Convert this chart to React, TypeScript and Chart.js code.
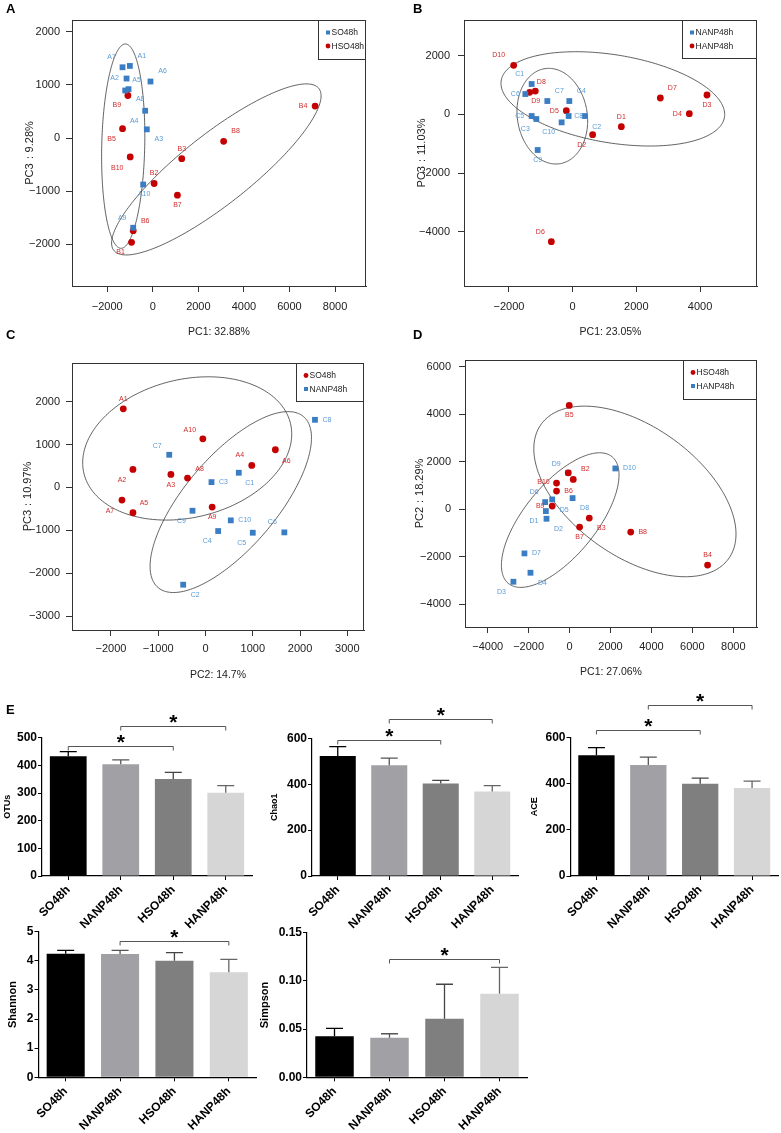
import React, { useEffect, useRef } from 'react';
import { Chart, registerables } from 'chart.js';

Chart.register(...registerables);

const FONT = '"Liberation Sans", Arial, Helvetica, sans-serif';
Chart.defaults.font.family = FONT;

const BLUE = '#3b7dc3';
const RED = '#c40000';
const BLUE_TEXT = '#5b9bd6';
const RED_TEXT = '#d22b2b';

// ---------------- Panel A : SO48h vs HSO48h (PC1 / PC3) ----------------
const aSoNames = ['A1', 'A2', 'A3', 'A4', 'A5', 'A6', 'A7', 'A8', 'A9', 'A10'];
const aSoX = [-1007, -1153, -263, -336, -1066, -102, -1329, -1212, -861, -423];
const aSoY = [1356, 1119, 163, 513, 919, 1063, 1331, 894, -1688, -875];
const aHsoNames = ['B1', 'B2', 'B3', 'B4', 'B5', 'B6', 'B7', 'B8', 'B9', 'B10'];
const aHsoX = [-934, 58, 1270, 7125, -1329, -861, 1080, 3110, -1095, -993];
const aHsoY = [-1963, -856, -388, 600, 175, -1744, -1075, -63, 800, -356];
const aXTicks = [-2000, 0, 2000, 4000, 6000, 8000];
const aYTicks = [-2000, -1000, 0, 1000, 2000];
// ellipse: [centre x, centre y, half extent x, half extent y, correlation]
const aEllipses = [
  [-1299, -153, 949, 1922, 0.1],
  [2789, -591, 4599, 1609, 0.86],
];

// ---------------- Panel B : NANP48h vs HANP48h (PC1 / PC3) ----------------
const bNanpNames = ['C1', 'C2', 'C3', 'C4', 'C5', 'C6', 'C7', 'C8', 'C9', 'C10'];
const bNanpX = [-1288, 377, -1141, -105, -1288, -1487, -796, -126, -1099, -346];
const bNanpY = [1034, -57, -159, 454, -57, 693, 454, -57, -1215, -273];
const bHanpNames = ['D1', 'D2', 'D3', 'D4', 'D5', 'D6', 'D7', 'D8', 'D9', 'D10'];
const bHanpX = [1529, 628, 4219, 3664, -199, -670, 2754, -1173, -1351, -1853];
const bHanpY = [-420, -693, 659, 23, 125, -4340, 557, 795, 750, 1670];
const bXTicks = [-2000, 0, 2000, 4000];
const bYTicks = [-4000, -2000, 0, 2000];
const bEllipses = [
  [1262, 528, 3513, 1607, -0.33],
  [-639, -62, 1110, 1630, -0.1],
];

// ---------------- Panel C : SO48h vs NANP48h (PC2 / PC3) ----------------
const cSoNames = ['A1', 'A2', 'A3', 'A4', 'A5', 'A6', 'A7', 'A8', 'A9', 'A10'];
const cSoX = [-1739, -1535, -732, 979, -1535, 1478, -1767, -380, 141, -56];
const cSoY = [1834, 420, 303, 513, -591, 878, -295, 218, -458, 1134];
const cNanpNames = ['C1', 'C2', 'C3', 'C4', 'C5', 'C6', 'C7', 'C8', 'C9', 'C10'];
const cNanpX = [704, -472, 127, 268, 1000, 1668, -767, 2316, -275, 535];
const cNanpY = [342, -2269, 124, -1018, -1057, -1049, 761, 1577, -544, -769];
const cXTicks = [-2000, -1000, 0, 1000, 2000, 3000];
const cYTicks = [-3000, -2000, -1000, 0, 1000, 2000];
const cEllipses = [
  [-387, 909, 2211, 1671, 0.2],
  [535, -342, 1707, 2110, 0.71],
];

// ---------------- Panel D : HSO48h vs HANP48h (PC1 / PC2) ----------------
const dHsoNames = ['B1', 'B2', 'B3', 'B4', 'B5', 'B6', 'B7', 'B8', 'B9', 'B10'];
const dHsoX = [-65, 180, 963, 6744, -16, -637, 490, 2988, -849, -637];
const dHsoY = [1530, 1250, -379, -2359, 4366, 758, -758, -969, 126, 1095];
const dHanpNames = ['D1', 'D2', 'D3', 'D4', 'D5', 'D6', 'D7', 'D8', 'D9', 'D10'];
const dHanpX = [-1159, -1127, -2744, -1911, -849, -1192, -2205, 147, -65, 2237];
const dHanpY = [-84, -407, -3061, -2682, 407, 295, -1867, 463, 1530, 1713];
const dXTicks = [-4000, -2000, 0, 2000, 4000, 6000, 8000];
const dYTicks = [-4000, -2000, 0, 2000, 4000, 6000];
const dEllipses = [
  [3193, 744, 4940, 3594, -0.5],
  [-457, -463, 2874, 2836, 0.67],
];

// ---------------- Panel E : alpha diversity ----------------
const groupNames = ['SO48h', 'NANP48h', 'HSO48h', 'HANP48h'];
const otusMean = [433, 404, 351, 301];
const otusSd = [17, 16, 24, 26];
const chao1Mean = [523, 483, 403, 368];
const chao1Sd = [41, 31, 14, 26];
const aceMean = [522, 480, 399, 381];
const aceSd = [33, 34, 24, 29];
const shannonMean = [4.24, 4.23, 4.0, 3.61];
const shannonSd = [0.12, 0.13, 0.28, 0.44];
const simpsonMean = [0.0425, 0.0411, 0.0608, 0.0867];
const simpsonSd = [0.0083, 0.0041, 0.0357, 0.0273];
// significance brackets: [from group, to group, bracket level]
const otusSig = [[0, 2, 470], [1, 3, 542]];
const chao1Sig = [[0, 2, 594], [1, 3, 686]];
const aceSig = [[0, 2, 632], [1, 3, 740]];
const shannonSig = [[1, 3, 4.69]];
const simpsonSig = [[1, 3, 0.1227]];
const otusTicks = [0, 100, 200, 300, 400, 500];
const chao1Ticks = [0, 200, 400, 600];
const aceTicks = [0, 200, 400, 600];
const shannonTicks = [0, 1, 2, 3, 4, 5];
const simpsonTicks = [0, 0.05, 0.1, 0.15];

// label offsets (pixels) for the sample names next to the points
const aSoOff = [[12, -10], [-12, 0], [12, 10], [-11, 10], [8, -9], [12, -10], [-11, -10], [15, 9], [-11, -10], [1, 10]];
const aHsoOff = [[-11, 10], [0, -10], [0, -10], [-12, 0], [-11, 10], [12, -10], [0, 10], [12, -10], [-11, 10], [-13, 11]];
const bNanpOff = [[-12, -10], [12, 11], [-11, 10], [12, -10], [-12, 0], [-10, 0], [12, -10], [10, 0], [0, 10], [-13, 10]];
const bHanpOff = [[0, -10], [-11, 10], [0, 10], [-12, 0], [-12, 0], [-11, -10], [12, -10], [6, -9], [6, 9], [-15, -10]];
const cSoOff = [[0, -10], [-11, 11], [0, 11], [-12, -10], [11, -10], [11, 11], [-12, 11], [12, -9], [0, 10], [-13, -9]];
const cNanpOff = [[11, 10], [12, 10], [12, 0], [-11, 10], [-11, 10], [-12, -10], [-12, -9], [12, 0], [-11, 10], [14, 0]];
const dHsoOff = [null, [12, -10], [12, 10], [0, -10], [0, 10], [12, 0], [0, 10], [12, 0], [-12, 0], [-13, -1]];
const dHanpOff = [[-12, 10], [12, 10], [-12, 10], [12, 10], [12, 11], [-11, -10], [12, 0], [12, 10], [-12, -9], [14, 0]];

const BAR_COLORS = ['#000000', '#a1a1a5', '#7f7f7f', '#d6d6d6'];
const ERR_COLORS = ['#000000', '#555555', '#444444', '#666666'];

type Box = { left: number; top: number; width: number; height: number };
type Area = { left: number; top: number; right: number; bottom: number };
type Group = {
  label: string;
  shape: 'rect' | 'circle';
  color: string;
  textColor: string;
  names: string[];
  xs: number[];
  ys: number[];
  offsets: (number[] | null)[];
};
type ScatterSpec = {
  box: Box;
  area: Area;
  xRange: number[];
  yRange: number[];
  xTicks: number[];
  yTicks: number[];
  xTitle: string;
  yTitle: string;
  xTitlePad: number;
  yTitlePad: number;
  xTickPad: number;
  yTickPad: number;
  groups: Group[];
  ellipses: number[][];
  legend: { w: number; h: number };
};

const fmtMinus = (v: number) => (v < 0 ? '\u2212' + Math.abs(v) : String(v));

function makeScatter(s: ScatterSpec): any {
  const tickFont = { family: FONT, size: 11 };
  const ellipsePlugin = {
    id: 'ellipses',
    beforeDatasetsDraw(chart: any) {
      const { ctx } = chart;
      const xs = chart.scales.x;
      const ys = chart.scales.y;
      ctx.save();
      ctx.strokeStyle = '#3a3a3a';
      ctx.lineWidth = 0.8;
      for (const [cx, cy, sx, sy, r] of s.ellipses) {
        ctx.beginPath();
        const n = 240;
        for (let k = 0; k <= n; k++) {
          const t = (k / n) * Math.PI * 2;
          const dx = sx * Math.cos(t);
          const dy = sy * (r * Math.cos(t) + Math.sqrt(1 - r * r) * Math.sin(t));
          const px = xs.getPixelForValue(cx + dx);
          const py = ys.getPixelForValue(cy + dy);
          if (k === 0) ctx.moveTo(px, py);
          else ctx.lineTo(px, py);
        }
        ctx.closePath();
        ctx.stroke();
      }
      ctx.restore();
    },
  };
  const labelPlugin = {
    id: 'pointNames',
    afterDatasetsDraw(chart: any) {
      const { ctx } = chart;
      ctx.save();
      ctx.font = `7px ${FONT}`;
      ctx.textAlign = 'center';
      ctx.textBaseline = 'middle';
      s.groups.forEach((g, di) => {
        const meta = chart.getDatasetMeta(di);
        ctx.fillStyle = g.textColor;
        g.names.forEach((name, i) => {
          const off = g.offsets[i];
          if (!off) return;
          const el = meta.data[i];
          ctx.fillText(name, el.x + off[0], el.y + off[1]);
        });
      });
      ctx.restore();
    },
  };
  const framePlugin = {
    id: 'frameLegend',
    afterDraw(chart: any) {
      const { ctx, chartArea: a } = chart;
      ctx.save();
      ctx.strokeStyle = '#333';
      ctx.lineWidth = 1;
      ctx.strokeRect(Math.round(a.left) + 0.5, Math.round(a.top) + 0.5, Math.round(a.right - a.left) - 1, Math.round(a.bottom - a.top));
      // legend
      const lx = Math.round(a.right - s.legend.w) + 0.5;
      const ly = Math.round(a.top) + 0.5;
      ctx.fillStyle = '#fff';
      ctx.fillRect(lx, ly, s.legend.w - 1, s.legend.h);
      ctx.strokeRect(lx, ly, s.legend.w - 1, s.legend.h);
      ctx.font = `8.5px ${FONT}`;
      ctx.textAlign = 'left';
      ctx.textBaseline = 'middle';
      s.groups.forEach((g, k) => {
        const my = ly + 12 + k * 13.5;
        const mx = lx + 9.5;
        ctx.fillStyle = g.color;
        if (g.shape === 'rect') {
          ctx.fillRect(mx - 2, my - 2, 4, 4);
        } else {
          ctx.beginPath();
          ctx.arc(mx, my, 2.4, 0, Math.PI * 2);
          ctx.fill();
        }
        ctx.fillStyle = '#222';
        ctx.fillText(g.label, mx + 3.5, my + 0.5);
      });
      ctx.restore();
    },
  };
  return {
    type: 'scatter',
    data: {
      datasets: s.groups.map((g) => ({
        label: g.label,
        data: g.xs.map((x, i) => ({ x, y: g.ys[i] })),
        pointStyle: g.shape,
        pointRadius: g.shape === 'rect' ? 4.1 : 3.4,
        backgroundColor: g.color,
        borderColor: g.color,
        borderWidth: 0,
      })),
    },
    options: {
      animation: false,
      responsive: false,
      events: [],
      layout: { padding: { left: 0, top: s.area.top, right: s.box.width - s.area.right, bottom: 0 } },
      plugins: { legend: { display: false }, tooltip: { enabled: false } },
      scales: {
        x: {
          type: 'linear',
          position: 'bottom',
          min: s.xRange[0],
          max: s.xRange[1],
          afterBuildTicks: (sc: any) => {
            sc.ticks = s.xTicks.map((v) => ({ value: v }));
          },
          afterFit: (sc: any) => {
            sc.height = s.box.height - s.area.bottom;
          },
          ticks: { autoSkip: false, maxRotation: 0, minRotation: 0, padding: s.xTickPad, font: tickFont, color: '#222', callback: (v: number) => fmtMinus(v) },
          grid: { display: true, drawOnChartArea: false, drawTicks: true, tickLength: 6, color: '#333', lineWidth: 1 },
          border: { display: true, color: '#333', width: 1 },
          title: { display: true, text: s.xTitle, font: { family: FONT, size: 10.5 }, color: '#222', padding: { top: 0, bottom: s.xTitlePad } },
        },
        y: {
          type: 'linear',
          position: 'left',
          min: s.yRange[0],
          max: s.yRange[1],
          afterBuildTicks: (sc: any) => {
            sc.ticks = s.yTicks.map((v) => ({ value: v }));
          },
          afterFit: (sc: any) => {
            sc.width = s.area.left;
          },
          ticks: { autoSkip: false, padding: s.yTickPad, font: tickFont, color: '#222', callback: (v: number) => fmtMinus(v) },
          grid: { display: true, drawOnChartArea: false, drawTicks: true, tickLength: 6, color: '#333', lineWidth: 1 },
          border: { display: true, color: '#333', width: 1 },
          title: { display: true, text: s.yTitle, font: { family: FONT, size: 11 }, color: '#222', padding: { top: s.yTitlePad, bottom: 0 } },
        },
      },
    },
    plugins: [ellipsePlugin, labelPlugin, framePlugin],
  };
}

type BarSpec = {
  box: Box;
  area: Area;
  max: number;
  yTicks: number[];
  yFmt: (v: number) => string;
  title: string;
  titleSize: number;
  titlePad: number;
  means: number[];
  sds: number[];
  sig: number[][];
};

function makeBar(b: BarSpec): any {
  const errPlugin = {
    id: 'errorsAndSig',
    afterDraw(chart: any) {
      const { ctx } = chart;
      const meta = chart.getDatasetMeta(0);
      const ys = chart.scales.y;
      ctx.save();
      b.means.forEach((m, i) => {
        const x = meta.data[i].x;
        const yTop = ys.getPixelForValue(m + b.sds[i]);
        const yBar = ys.getPixelForValue(m);
        ctx.strokeStyle = ERR_COLORS[i];
        ctx.lineWidth = 1.3;
        ctx.beginPath();
        ctx.moveTo(x, yBar);
        ctx.lineTo(x, yTop);
        ctx.moveTo(x - 8.5, yTop);
        ctx.lineTo(x + 8.5, yTop);
        ctx.stroke();
      });
      b.sig.forEach(([from, to, level]) => {
        const x1 = meta.data[from].x;
        const x2 = meta.data[to].x;
        const y = Math.round(ys.getPixelForValue(level)) + 0.5;
        ctx.strokeStyle = '#555';
        ctx.lineWidth = 1;
        ctx.beginPath();
        ctx.moveTo(x1, y + 4);
        ctx.lineTo(x1, y);
        ctx.lineTo(x2, y);
        ctx.lineTo(x2, y + 4);
        ctx.stroke();
        ctx.font = `bold 21px ${FONT}`;
        ctx.fillStyle = '#000';
        ctx.textAlign = 'center';
        ctx.textBaseline = 'alphabetic';
        const mt = ctx.measureText('*');
        const cy = y - 7.7;
        const base = cy + (mt.actualBoundingBoxAscent - mt.actualBoundingBoxDescent) / 2;
        ctx.fillText('*', (x1 + x2) / 2, base);
      });
      ctx.restore();
    },
  };
  const boldTick = { family: FONT, size: 12, weight: 'bold' as const };
  return {
    type: 'bar',
    data: {
      labels: groupNames,
      datasets: [{ data: b.means, backgroundColor: BAR_COLORS, borderWidth: 0, barPercentage: 0.7, categoryPercentage: 1 }],
    },
    options: {
      animation: false,
      responsive: false,
      events: [],
      layout: { padding: { left: 0, top: b.area.top, right: b.box.width - b.area.right, bottom: 0 } },
      plugins: { legend: { display: false }, tooltip: { enabled: false } },
      scales: {
        x: {
          afterFit: (sc: any) => {
            sc.height = b.box.height - b.area.bottom;
          },
          ticks: { autoSkip: false, minRotation: 45, maxRotation: 45, padding: 3, font: boldTick, color: '#000' },
          grid: { display: true, offset: false, drawOnChartArea: false, drawTicks: true, tickLength: 4, color: '#000', lineWidth: 1 },
          border: { display: true, color: '#000', width: 1.2 },
        },
        y: {
          min: 0,
          max: b.max,
          afterBuildTicks: (sc: any) => {
            sc.ticks = b.yTicks.map((v) => ({ value: v }));
          },
          afterFit: (sc: any) => {
            sc.width = b.area.left;
          },
          ticks: { autoSkip: false, padding: 1, font: boldTick, color: '#000', callback: (v: number) => b.yFmt(v) },
          grid: { display: true, drawOnChartArea: false, drawTicks: true, tickLength: 4, color: '#000', lineWidth: 1 },
          border: { display: true, color: '#000', width: 1.2 },
          title: {
            display: true,
            text: b.title,
            font: { family: FONT, size: b.titleSize, weight: 'bold' },
            color: '#000',
            padding: { top: b.titlePad, bottom: 0 },
          },
        },
      },
    },
    plugins: [errPlugin],
  };
}

function ChartBox({ box, make }: { box: Box; make: () => any }) {
  const ref = useRef<HTMLCanvasElement>(null);
  useEffect(() => {
    const chart = new Chart(ref.current as HTMLCanvasElement, make());
    return () => chart.destroy();
  }, []);
  return (
    <div style={{ position: 'absolute', left: box.left, top: box.top, width: box.width, height: box.height }}>
      <canvas ref={ref} width={box.width} height={box.height} style={{ display: 'block', width: box.width, height: box.height }} />
    </div>
  );
}

const soGroup = (names: string[], xs: number[], ys: number[], offsets: any[], shape: 'rect' | 'circle', color: string, textColor: string, label: string): Group => ({
  label,
  shape,
  color,
  textColor,
  names,
  xs,
  ys,
  offsets,
});

const panelA: ScatterSpec = {
  box: { left: 0, top: 0, width: 390, height: 345 },
  area: { left: 72, top: 20, right: 366, bottom: 286 },
  xRange: [-3548, 9360],
  yRange: [-2784, 2220],
  xTicks: aXTicks,
  yTicks: aYTicks,
  xTitle: 'PC1: 32.88%',
  yTitle: 'PC3\uFF1A9.28%',
  xTitlePad: 6.7,
  yTitlePad: 23.4,
  xTickPad: 8,
  yTickPad: 6,
  groups: [
    soGroup(aSoNames, aSoX, aSoY, aSoOff, 'rect', BLUE, BLUE_TEXT, 'SO48h'),
    soGroup(aHsoNames, aHsoX, aHsoY, aHsoOff, 'circle', RED, RED_TEXT, 'HSO48h'),
  ],
  ellipses: aEllipses,
  legend: { w: 48, h: 39 },
};

const panelB: ScatterSpec = {
  box: { left: 390, top: 0, width: 391, height: 345 },
  area: { left: 74, top: 20, right: 367, bottom: 286 },
  xRange: [-3413, 5790],
  yRange: [-5850, 3216],
  xTicks: bXTicks,
  yTicks: bYTicks,
  xTitle: 'PC1: 23.05%',
  yTitle: 'PC3\uFF1A11.03%',
  xTitlePad: 6.7,
  yTitlePad: 25.4,
  xTickPad: 8,
  yTickPad: 8,
  groups: [
    soGroup(bNanpNames, bNanpX, bNanpY, bNanpOff, 'rect', BLUE, BLUE_TEXT, 'NANP48h'),
    soGroup(bHanpNames, bHanpX, bHanpY, bHanpOff, 'circle', RED, RED_TEXT, 'HANP48h'),
  ],
  ellipses: bEllipses,
  legend: { w: 75, h: 38 },
};

const panelC: ScatterSpec = {
  box: { left: 0, top: 340, width: 390, height: 350 },
  area: { left: 72, top: 23, right: 364, bottom: 290 },
  xRange: [-2824, 3353],
  yRange: [-3326, 2902],
  xTicks: cXTicks,
  yTicks: cYTicks,
  xTitle: 'PC2: 14.7%',
  yTitle: 'PC3\uFF1A10.97%',
  xTitlePad: 8.7,
  yTitlePad: 21.4,
  xTickPad: 6,
  yTickPad: 6,
  groups: [
    soGroup(cSoNames, cSoX, cSoY, cSoOff, 'circle', RED, RED_TEXT, 'SO48h'),
    soGroup(cNanpNames, cNanpX, cNanpY, cNanpOff, 'rect', BLUE, BLUE_TEXT, 'NANP48h'),
  ],
  ellipses: cEllipses,
  legend: { w: 68, h: 38 },
};

const panelD: ScatterSpec = {
  box: { left: 390, top: 340, width: 391, height: 350 },
  area: { left: 75, top: 20, right: 367, bottom: 287 },
  xRange: [-5110, 9159],
  yRange: [-4968, 6282],
  xTicks: dXTicks,
  yTicks: dYTicks,
  xTitle: 'PC1: 27.06%',
  yTitle: 'PC2\uFF1A18.29%',
  xTitlePad: 11.7,
  yTitlePad: 23.4,
  xTickPad: 7,
  yTickPad: 8,
  groups: [
    soGroup(dHsoNames, dHsoX, dHsoY, dHsoOff, 'circle', RED, RED_TEXT, 'HSO48h'),
    soGroup(dHanpNames, dHanpX, dHanpY, dHanpOff, 'rect', BLUE, BLUE_TEXT, 'HANP48h'),
  ],
  ellipses: dEllipses,
  legend: { w: 74, h: 39 },
};

const intFmt = (v: number) => String(v);

const barOtus: BarSpec = {
  box: { left: 0, top: 690, width: 262, height: 245 },
  area: { left: 42, top: 47.7, right: 252, bottom: 186 },
  max: 500, yTicks: otusTicks, yFmt: intFmt, title: 'OTUs', titleSize: 9, titlePad: 2.6,
  means: otusMean, sds: otusSd, sig: otusSig,
};
const barChao1: BarSpec = {
  box: { left: 262, top: 690, width: 263, height: 245 },
  area: { left: 50, top: 48.3, right: 256, bottom: 186 },
  max: 600, yTicks: chao1Ticks, yFmt: intFmt, title: 'Chao1', titleSize: 9, titlePad: 7.6,
  means: chao1Mean, sds: chao1Sd, sig: chao1Sig,
};
const barAce: BarSpec = {
  box: { left: 525, top: 690, width: 256, height: 245 },
  area: { left: 45.5, top: 47.3, right: 253, bottom: 186 },
  max: 600, yTicks: aceTicks, yFmt: intFmt, title: 'ACE', titleSize: 9, titlePad: 4.6,
  means: aceMean, sds: aceSd, sig: aceSig,
};
const barShannon: BarSpec = {
  box: { left: 0, top: 920, width: 265, height: 213 },
  area: { left: 38.5, top: 11.7, right: 256, bottom: 157.3 },
  max: 5, yTicks: shannonTicks, yFmt: intFmt, title: 'Shannon', titleSize: 11, titlePad: 6.7,
  means: shannonMean, sds: shannonSd, sig: shannonSig,
};
const barSimpson: BarSpec = {
  box: { left: 250, top: 920, width: 290, height: 213 },
  area: { left: 57, top: 12.7, right: 277, bottom: 157.3 },
  max: 0.15, yTicks: simpsonTicks, yFmt: (v: number) => v.toFixed(2), title: 'Simpson', titleSize: 11, titlePad: 8.4,
  means: simpsonMean, sds: simpsonSd, sig: simpsonSig,
};

const letterStyle = (left: number, top: number): React.CSSProperties => ({
  position: 'absolute',
  left,
  top,
  fontFamily: FONT,
  fontWeight: 'bold',
  fontSize: 13,
  lineHeight: '13px',
  color: '#000',
});

export default function App() {
  return (
    <div style={{ position: 'absolute', left: 0, top: 0, width: 781, height: 1133, background: '#fff', overflow: 'hidden' }}>
      <ChartBox box={panelA.box} make={() => makeScatter(panelA)} />
      <ChartBox box={panelB.box} make={() => makeScatter(panelB)} />
      <ChartBox box={panelC.box} make={() => makeScatter(panelC)} />
      <ChartBox box={panelD.box} make={() => makeScatter(panelD)} />
      <ChartBox box={barOtus.box} make={() => makeBar(barOtus)} />
      <ChartBox box={barChao1.box} make={() => makeBar(barChao1)} />
      <ChartBox box={barAce.box} make={() => makeBar(barAce)} />
      <ChartBox box={barShannon.box} make={() => makeBar(barShannon)} />
      <ChartBox box={barSimpson.box} make={() => makeBar(barSimpson)} />
      <div style={letterStyle(6, 2)}>A</div>
      <div style={letterStyle(413, 2)}>B</div>
      <div style={letterStyle(6, 328)}>C</div>
      <div style={letterStyle(413, 328)}>D</div>
      <div style={letterStyle(6, 703)}>E</div>
    </div>
  );
}
